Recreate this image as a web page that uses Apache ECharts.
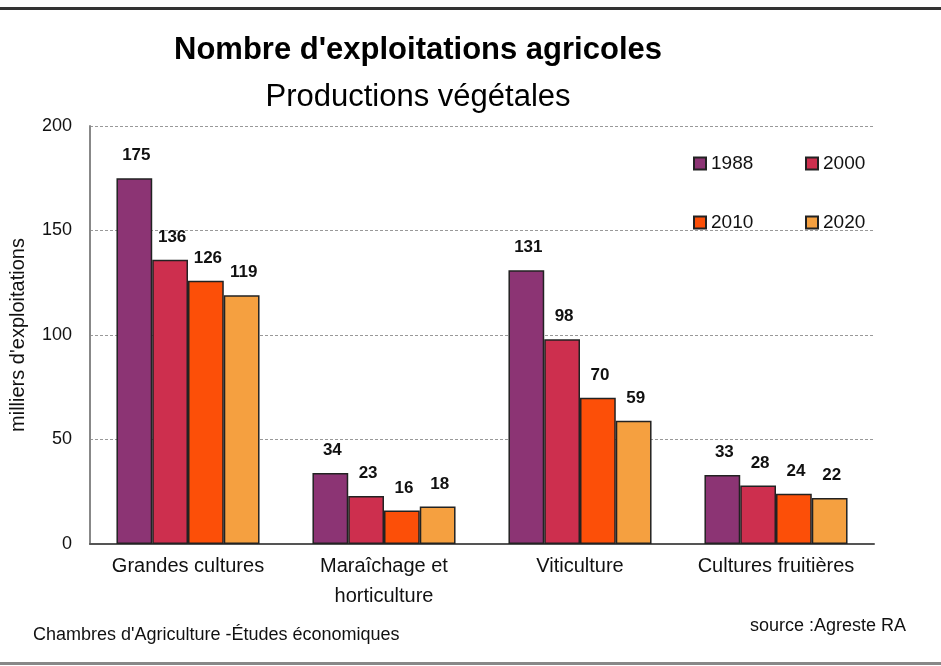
<!DOCTYPE html>
<html>
<head>
<meta charset="utf-8">
<script src="https://cdn.jsdelivr.net/npm/echarts@6/dist/echarts.min.js"></script>
<style>
  html, body { margin: 0; padding: 0; background: #fff; }
  #chart { width: 941px; height: 666px; }
</style>
</head>
<body>
<div id="chart"></div>
<script>
var categories = ['Grandes cultures', 'Maraîchage et\nhorticulture', 'Viticulture', 'Cultures fruitières'];
var years = ['1988', '2000', '2010', '2020'];
var v1988 = [175, 34, 131, 33];
var v2000 = [136, 23, 98, 28];
var v2010 = [126, 16, 70, 24];
var v2020 = [119, 18, 59, 22];
var yTicks = [0, 50, 100, 150, 200];

var colors = ['#8c3474', '#cd2f4e', '#fc4f08', '#f5a040'];
var values = [v1988, v2000, v2010, v2020];
var font = 'Liberation Sans, Arial, sans-serif';

var myChart = echarts.init(document.getElementById('chart'));

// legend placed as 2x2 grid, one legend per year
var legendPos = [[693, 154], [805, 154], [693, 213], [805, 213]];
var legends = years.map(function (y, i) {
    return {
        data: [y],
        left: legendPos[i][0],
        top: legendPos[i][1],
        itemWidth: 12,
        itemHeight: 12,
        icon: 'rect',
        padding: 0,
        textStyle: { fontFamily: font, fontSize: 19, color: '#111' }
    };
});

var series = years.map(function (y, i) {
    return {
        name: y,
        type: 'bar',
        data: values[i],
        barGap: 0,
        barCategoryGap: '27%',
        itemStyle: { color: colors[i], borderColor: '#222', borderWidth: 1.5 },
        label: {
            show: true,
            position: 'top',
            distance: 14,
            offset: [2, 0],
            fontFamily: font,
            fontWeight: 'bold',
            fontSize: 17,
            color: '#111'
        }
    };
});

option = {
    backgroundColor: '#fff',
    animation: false,
    title: [
        {
            text: "Nombre d'exploitations agricoles",
            left: 418, top: 35, textAlign: 'center', padding: 0,
            textStyle: { fontFamily: font, fontSize: 31, fontWeight: 'bold', color: '#000' }
        },
        {
            text: 'Productions végétales',
            left: 418, top: 82, textAlign: 'center', padding: 0,
            textStyle: { fontFamily: font, fontSize: 31, fontWeight: 'normal', color: '#000' }
        },
        {
            text: "Chambres d'Agriculture -Études économiques",
            left: 33, top: 626, padding: 0,
            textStyle: { fontFamily: font, fontSize: 18, fontWeight: 'normal', color: '#111' }
        },
        {
            text: 'source :Agreste RA',
            right: 35, top: 617, padding: 0,
            textStyle: { fontFamily: font, fontSize: 18, fontWeight: 'normal', color: '#111' }
        }
    ],
    legend: legends,
    grid: { left: 90, right: 67, top: 126, bottom: 122 },
    xAxis: {
        type: 'category',
        data: categories,
        axisTick: { show: false },
        axisLine: { lineStyle: { color: '#555', width: 2 } },
        axisLabel: {
            fontFamily: font, fontSize: 20, color: '#111',
            margin: 7, lineHeight: 30, interval: 0
        }
    },
    yAxis: {
        type: 'value',
        min: yTicks[0],
        max: yTicks[yTicks.length - 1],
        interval: 50,
        name: "milliers d'exploitations",
        nameLocation: 'middle',
        nameGap: 62,
        nameTextStyle: { fontFamily: font, fontSize: 20, color: '#111' },
        axisLine: { show: true, lineStyle: { color: '#888', width: 2 } },
        axisTick: { show: false },
        axisLabel: { fontFamily: font, fontSize: 18, color: '#111', margin: 18 },
        splitLine: { lineStyle: { color: '#999', type: [3, 2], width: 1 } }
    },
    graphic: [
        { type: 'rect', shape: { x: 0, y: 7, width: 941, height: 3 }, style: { fill: '#333' }, silent: true },
        { type: 'rect', shape: { x: 0, y: 662, width: 941, height: 3 }, style: { fill: '#888' }, silent: true }
    ],
    series: series
};

myChart.setOption(option);
</script>
</body>
</html>
